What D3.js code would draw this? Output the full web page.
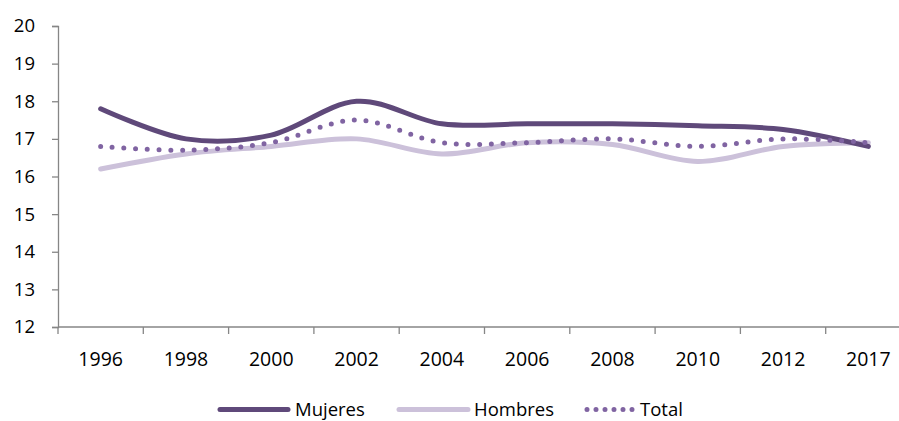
<!DOCTYPE html>
<html>
<head>
<meta charset="utf-8">
<script src="https://cdn.jsdelivr.net/npm/d3@7"></script>
<style>
html,body{margin:0;padding:0;background:#fff;overflow:hidden;}
svg{display:block;font-family:"Open Sans",sans-serif;}
</style>
</head>
<body>
<svg id="chart" width="899" height="421"></svg>
<script>
const years = ["1996","1998","2000","2002","2004","2006","2008","2010","2012","2017"];
const mujeres = [17.8, 17.0, 17.1, 18.0, 17.4, 17.4, 17.4, 17.35, 17.25, 16.8];
const hombres = [16.2, 16.6, 16.8, 17.0, 16.6, 16.9, 16.85, 16.4, 16.8, 16.9];
const total   = [16.8, 16.7, 16.9, 17.5, 16.9, 16.9, 17.0, 16.8, 17.0, 16.9];
const yTicks = [12,13,14,15,16,17,18,19,20];
const seriesNames = ["Mujeres","Hombres","Total"];

(function(){
const svg = d3.select("#chart");
const pLeft = 58, pRight = 911, pTop = 26, pBottom = 327;
const axisColor = "#868686";
const colors = {Mujeres:"#5f497a", Hombres:"#ccc1da", Total:"#8064a2"};

const x = d3.scaleBand().domain(years).range([pLeft, pRight]).padding(0);
const y = d3.scaleLinear().domain([12, 20]).range([pBottom, pTop]);

// Y axis
const yAxis = svg.append("g").attr("transform", `translate(${pLeft},0)`)
  .call(d3.axisLeft(y).tickValues(yTicks).tickSize(6).tickPadding(17).tickFormat(d3.format("d")));
yAxis.select(".domain").attr("stroke", axisColor).attr("stroke-width", 1.3);
yAxis.selectAll(".tick line").attr("stroke", axisColor).attr("stroke-width", 1.3);
yAxis.selectAll(".tick text").attr("font-size", 18.5).attr("fill", "#000")
  .attr("font-family", "'Open Sans',sans-serif");

// X axis (ticks at category boundaries)
const xg = svg.append("g");
xg.append("line").attr("x1", pLeft).attr("x2", pRight).attr("y1", pBottom).attr("y2", pBottom)
  .attr("stroke", axisColor).attr("stroke-width", 1.3);
const boundaries = years.map(d => x(d)).concat([x(years[years.length-1]) + x.bandwidth()]);
xg.selectAll("line.tk").data(boundaries).enter().append("line").attr("class","tk")
  .attr("x1", d => d).attr("x2", d => d).attr("y1", pBottom).attr("y2", pBottom + 7)
  .attr("stroke", axisColor).attr("stroke-width", 1.3);
xg.selectAll("text").data(years).enter().append("text")
  .attr("x", d => x(d) + x.bandwidth()/2).attr("y", 365.5)
  .attr("text-anchor", "middle").attr("font-size", 19.5).attr("fill", "#000")
  .text(d => d);

// Lines
const line = d3.line()
  .x((d, i) => x(years[i]) + x.bandwidth()/2)
  .y(d => y(d))
  .curve(d3.curveCatmullRom.alpha(0));

svg.append("path").datum(hombres).attr("d", line).attr("fill", "none")
  .attr("stroke", colors.Hombres).attr("stroke-width", 5).attr("stroke-linecap", "round");
svg.append("path").datum(mujeres).attr("d", line).attr("fill", "none")
  .attr("stroke", colors.Mujeres).attr("stroke-width", 5).attr("stroke-linecap", "round");
svg.append("path").datum(total).attr("d", line).attr("fill", "none")
  .attr("stroke", colors.Total).attr("stroke-width", 5).attr("stroke-linecap", "round")
  .attr("stroke-dasharray", "0 11.7");

// Legend
const legendY = 409.5;
const legendItems = [
  {name: seriesNames[0], x1: 220, x2: 288, tx: 295, dash: null},
  {name: seriesNames[1], x1: 399, x2: 468, tx: 474, dash: null},
  {name: seriesNames[2], x1: 587, x2: 632.5, tx: 640, dash: "0 9"}
];
const lg = svg.append("g");
legendItems.forEach(it => {
  const l = lg.append("line").attr("x1", it.x1).attr("x2", it.x2)
    .attr("y1", legendY).attr("y2", legendY)
    .attr("stroke", colors[it.name]).attr("stroke-width", 5).attr("stroke-linecap", "round");
  if (it.dash) l.attr("stroke-dasharray", it.dash);
  lg.append("text").attr("x", it.tx).attr("y", legendY + 6)
    .attr("font-size", 18.5).attr("fill", "#000").text(it.name);
});
})();
</script>
</body>
</html>
